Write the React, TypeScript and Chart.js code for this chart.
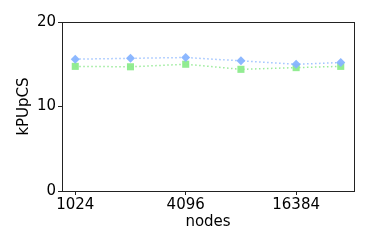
import { useEffect, useRef } from "react";
import { Chart, registerables } from "chart.js";

Chart.register(...registerables);

const nodes = [1024, 2048, 4096, 8192, 16384, 28672];
const seriesBlue = [15.6, 15.7, 15.8, 15.4, 15.0, 15.2];
const seriesGreen = [14.75, 14.7, 15.0, 14.4, 14.6, 14.75];
const xTicks = [1024, 4096, 16384];
const yTicks = [0, 10, 20];
const xTitle = "nodes";
const yTitle = "kPUpCS";

const FONT = "'DejaVu Sans', sans-serif";

const framePlugin = {
  id: "frame",
  afterDraw(chart: any) {
    const { ctx, chartArea } = chart;
    ctx.save();
    ctx.strokeStyle = "#222";
    ctx.lineWidth = 1;
    ctx.strokeRect(
      Math.round(chartArea.left) + 0.5,
      Math.round(chartArea.top) + 0.5,
      Math.round(chartArea.right - chartArea.left),
      Math.round(chartArea.bottom - chartArea.top)
    );
    ctx.fillStyle = "#000";
    ctx.font = `15px ${FONT}`;
    ctx.textAlign = "center";
    ctx.textBaseline = "middle";
    ctx.fillText(xTitle, (chartArea.left + chartArea.right) / 2, 222);
    ctx.translate(24, (chartArea.top + chartArea.bottom) / 2);
    ctx.rotate(-Math.PI / 2);
    ctx.fillText(yTitle, 0, 0);
    ctx.restore();
  },
};

export default function App() {
  const ref = useRef<HTMLCanvasElement>(null);
  useEffect(() => {
    document.body.style.margin = "0";
    const lx = nodes.map((n) => Math.log2(n));
    const span = lx[lx.length - 1] - lx[0];
    const chart = new Chart(ref.current!, {
      type: "line",
      data: {
        datasets: [
          {
            data: lx.map((x, i) => ({ x, y: seriesBlue[i] })),
            borderColor: "rgba(135,180,255,0.8)",
            backgroundColor: "rgba(135,180,255,0.95)",
            borderWidth: 1.5,
            borderDash: [1.5, 2.5],
            pointStyle: "rectRot",
            pointRadius: 4.5,
            pointBorderWidth: 0,
          },
          {
            data: lx.map((x, i) => ({ x, y: seriesGreen[i] })),
            borderColor: "rgba(130,230,130,0.8)",
            backgroundColor: "rgba(140,235,140,0.95)",
            borderWidth: 1.5,
            borderDash: [1.5, 2.5],
            pointStyle: "rect",
            pointRadius: 5,
            pointBorderWidth: 0,
          },
        ],
      },
      options: {
        animation: false,
        responsive: false,
        layout: { padding: { left: 0, top: 22, right: 20, bottom: 0 } },
        plugins: { legend: { display: false }, tooltip: { enabled: false } },
        scales: {
          x: {
            type: "linear",
            min: lx[0] - span * 0.05,
            max: lx[lx.length - 1] + span * 0.05,
            afterBuildTicks(axis: any) {
              axis.ticks = xTicks.map((v) => ({ value: Math.log2(v) }));
            },
            afterFit(axis: any) {
              axis.height = 58;
            },
            ticks: {
              callback: (v: any) => String(Math.round(Math.pow(2, v))),
              color: "#000",
              font: { family: FONT, size: 15 },
              padding: 1,
              maxRotation: 0,
            },
            grid: { drawOnChartArea: false, drawTicks: true, tickLength: 4, color: "#222" },
            border: { display: false },
          },
          y: {
            type: "linear",
            min: 0,
            max: 20,
            afterBuildTicks(axis: any) {
              axis.ticks = yTicks.map((v) => ({ value: v }));
            },
            afterFit(axis: any) {
              axis.width = 62;
            },
            ticks: {
              color: "#000",
              font: { family: FONT, size: 15 },
              padding: 2,
            },
            grid: { drawOnChartArea: false, drawTicks: true, tickLength: 4, color: "#222" },
            border: { display: false },
          },
        },
      },
      plugins: [framePlugin],
    });
    return () => chart.destroy();
  }, []);
  return (
    <div style={{ width: 374, height: 249 }}>
      <canvas ref={ref} width={374} height={249} />
    </div>
  );
}
